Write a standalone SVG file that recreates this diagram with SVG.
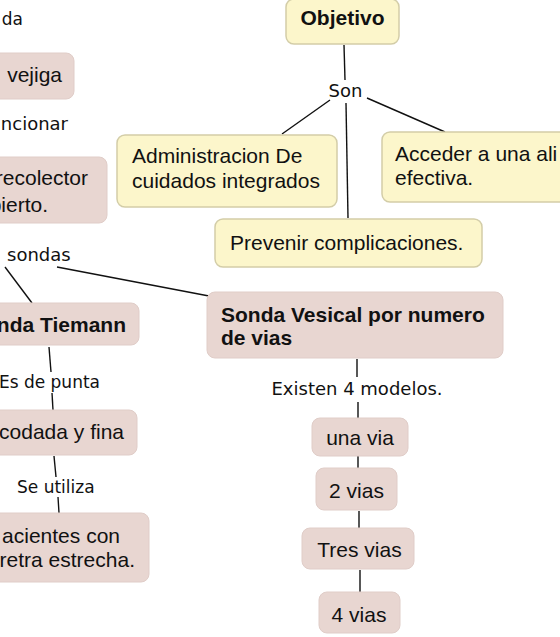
<svg xmlns="http://www.w3.org/2000/svg" width="560" height="637" viewBox="0 0 560 637">
<style>
.y{fill:#fcf6cb;stroke:#d3cda8;stroke-width:1.5}
.p{fill:#e8d6d1;stroke:#e0cdc8;stroke-width:1}
.t{font-family:"Liberation Sans",Arial,sans-serif;font-size:21px;fill:#111}
.b{font-weight:bold}
.l{font-family:"DejaVu Sans",Verdana,sans-serif;font-size:18px;fill:#111}
.ls{font-size:17px}
.c{stroke:#111;stroke-width:1.4;fill:none}
</style>
<rect width="560" height="637" fill="#ffffff"/>
<g id="connectors">
<line class="c" x1="344" y1="45" x2="345" y2="80"/>
<line class="c" x1="330" y1="100" x2="282" y2="134"/>
<line class="c" x1="367" y1="98" x2="445" y2="132"/>
<line class="c" x1="346" y1="103" x2="348" y2="218"/>
<line class="c" x1="5" y1="267" x2="32" y2="303"/>
<line class="c" x1="57" y1="267" x2="209" y2="296"/>
<line class="c" x1="49" y1="347" x2="51" y2="372"/>
<line class="c" x1="52" y1="393" x2="53" y2="410"/>
<line class="c" x1="54" y1="456" x2="56" y2="477"/>
<line class="c" x1="58" y1="497" x2="59" y2="513"/>
<line class="c" x1="357" y1="359" x2="357" y2="377"/>
<line class="c" x1="358" y1="402" x2="358" y2="418"/>
<line class="c" x1="358" y1="456" x2="358" y2="468"/>
<line class="c" x1="359" y1="511" x2="359" y2="528"/>
<line class="c" x1="360" y1="570" x2="360" y2="592"/>
</g>
<g id="lbl-da"><text class="l ls" x="23" y="25" text-anchor="end">da</text></g>
<g id="n-vejiga"><rect class="p" x="-10" y="53" width="84" height="46" rx="8"/><text class="t" x="62" y="82" text-anchor="end">vejiga</text></g>
<g id="lbl-ncionar"><text class="l" x="68" y="130" text-anchor="end">ncionar</text></g>
<g id="n-recolector"><rect class="p" x="-10" y="157" width="117" height="66" rx="8"/><text class="t" x="88" y="185" text-anchor="end">recolector</text><text class="t" x="48" y="212" text-anchor="end">pierto.</text></g>
<g id="lbl-sondas"><text class="l" x="7" y="261">sondas</text></g>
<g id="n-tiemann"><rect class="p" x="-10" y="303" width="149" height="42" rx="8"/><text class="t b" x="126" y="332" text-anchor="end">nda Tiemann</text></g>
<g id="lbl-punta"><text class="l ls" x="100" y="388" text-anchor="end">Es de punta</text></g>
<g id="n-acodada"><rect class="p" x="-10" y="410" width="147" height="45" rx="8"/><text class="t" x="124" y="439" text-anchor="end">codada y fina</text></g>
<g id="lbl-utiliza"><text class="l ls" x="17" y="493">Se utiliza</text></g>
<g id="n-pacientes"><rect class="p" x="-10" y="513" width="159" height="69" rx="8"/><text class="t" x="120" y="543" text-anchor="end">acientes con</text><text class="t" x="135" y="567" text-anchor="end">retra estrecha.</text></g>
<g id="n-objetivo"><rect class="y" x="286" y="-1" width="113" height="45" rx="8"/><text class="t b" x="342.5" y="25" text-anchor="middle">Objetivo</text></g>
<g id="lbl-son"><text class="l" x="345.5" y="97" text-anchor="middle">Son</text></g>
<g id="n-admin"><rect class="y" x="117" y="135" width="220" height="72" rx="8"/><text class="t" x="132" y="163">Administracion De</text><text class="t" x="132" y="188">cuidados integrados</text></g>
<g id="n-acceder"><rect class="y" x="382" y="132" width="190" height="70" rx="8"/><text class="t" x="395" y="161">Acceder a una ali</text><text class="t" x="395" y="185">efectiva.</text></g>
<g id="n-prevenir"><rect class="y" x="215" y="219" width="267" height="48" rx="8"/><text class="t" x="230" y="250">Prevenir complicaciones.</text></g>
<g id="n-vesical"><rect class="p" x="207" y="292" width="296" height="66" rx="8"/><text class="t b" x="221" y="322">Sonda Vesical por numero</text><text class="t b" x="221" y="345">de vias</text></g>
<g id="lbl-existen"><text class="l" x="357" y="395" text-anchor="middle">Existen 4 modelos.</text></g>
<g id="n-unavia"><rect class="p" x="312" y="418" width="96" height="38" rx="8"/><text class="t" x="360" y="445" text-anchor="middle">una via</text></g>
<g id="n-2vias"><rect class="p" x="316" y="468" width="81" height="42" rx="8"/><text class="t" x="356.5" y="498" text-anchor="middle">2 vias</text></g>
<g id="n-tresvias"><rect class="p" x="302" y="528" width="112" height="41" rx="8"/><text class="t" x="359.5" y="557" text-anchor="middle">Tres vias</text></g>
<g id="n-4vias"><rect class="p" x="319" y="592" width="81" height="41" rx="8"/><text class="t" x="359" y="622" text-anchor="middle">4 vias</text></g>
</svg>
